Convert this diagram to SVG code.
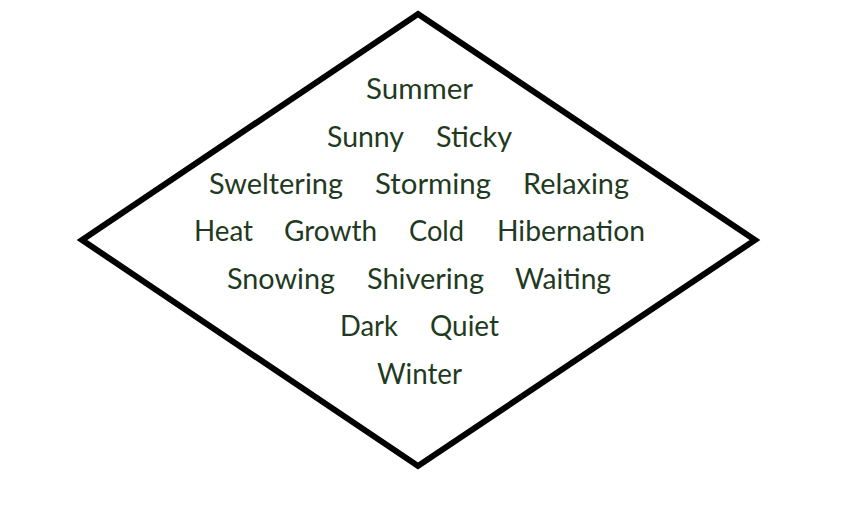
<svg xmlns="http://www.w3.org/2000/svg" width="851" height="517" viewBox="0 0 851 517">
<style>
.w{font-family:Lato,"Open Sans","Liberation Sans",sans-serif;font-size:29px;fill:#1f3a22;text-anchor:middle}
</style>
<rect width="851" height="517" fill="#ffffff"/>
<g id="diamond">
<polygon points="418,14 755,240 418,466 82,240" fill="none" stroke="#000" stroke-width="6" stroke-linejoin="miter"/>
</g>
<g id="words">
<text class="w" x="419.5" y="99" textLength="107" lengthAdjust="spacingAndGlyphs">Summer</text>
<text class="w" x="365.5" y="147" textLength="77" lengthAdjust="spacingAndGlyphs">Sunny</text>
<text class="w" x="474" y="147" textLength="76" lengthAdjust="spacingAndGlyphs">Sticky</text>
<text class="w" x="276" y="194" textLength="134" lengthAdjust="spacingAndGlyphs">Sweltering</text>
<text class="w" x="433" y="194" textLength="116" lengthAdjust="spacingAndGlyphs">Storming</text>
<text class="w" x="576" y="194" textLength="106" lengthAdjust="spacingAndGlyphs">Relaxing</text>
<text class="w" x="223.5" y="241" textLength="59" lengthAdjust="spacingAndGlyphs">Heat</text>
<text class="w" x="330.5" y="241" textLength="93" lengthAdjust="spacingAndGlyphs">Growth</text>
<text class="w" x="436.5" y="241" textLength="55" lengthAdjust="spacingAndGlyphs">Cold</text>
<text class="w" x="571" y="241" textLength="148" lengthAdjust="spacingAndGlyphs">Hibernation</text>
<text class="w" x="281" y="289" textLength="108" lengthAdjust="spacingAndGlyphs">Snowing</text>
<text class="w" x="425.5" y="289" textLength="117" lengthAdjust="spacingAndGlyphs">Shivering</text>
<text class="w" x="563" y="289" textLength="96" lengthAdjust="spacingAndGlyphs">Waiting</text>
<text class="w" x="369" y="336" textLength="58" lengthAdjust="spacingAndGlyphs">Dark</text>
<text class="w" x="464.5" y="336" textLength="69" lengthAdjust="spacingAndGlyphs">Quiet</text>
<text class="w" x="419.5" y="384" textLength="85" lengthAdjust="spacingAndGlyphs">Winter</text>
</g>
</svg>
